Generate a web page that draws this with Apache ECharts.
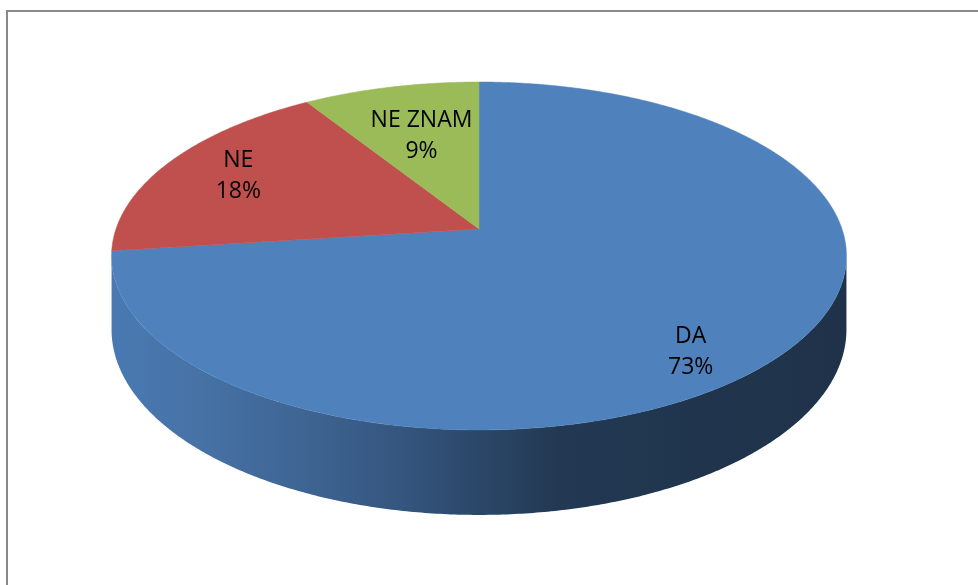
<!DOCTYPE html>
<html><head><meta charset="utf-8">
<script src="https://cdn.jsdelivr.net/npm/echarts@6/dist/echarts.min.js"></script>
<style>html,body{margin:0;padding:0;background:#fff}#c{width:978px;height:585px}</style>
</head><body><div id="c"></div>
<script>
// ---- data ----
const categories = ['DA', 'NE', 'NE ZNAM'];
const values = [73, 18, 9];

// ---- style / layout ----
const colors = ['#4F81BD', '#C0504D', '#9BBB59'];
const labelRadius = [0.72, 0.77, 0.62];
const L = { cx: 479, cy: 229, R: 363, B: 169.8, k: 0.155, T: 71.8 };
const wallStops = [[0, 0.94], [0.12, 0.88], [0.26, 0.78], [0.39, 0.67], [0.5, 0.55], [0.61, 0.44], [0.8, 0.41], [1, 0.39]];

function proj(phi, r, down) {
  const a = phi * Math.PI / 180;
  const u = Math.sin(a) * r, v = Math.cos(a) * r;
  const s = 1 / (1 + L.k * v);
  return [L.cx + L.R * u * s, L.cy - L.B * v * s + (down ? L.T * s : 0)];
}
function shade(hex, f) {
  const n = parseInt(hex.slice(1), 16);
  const r = Math.round(((n >> 16) & 255) * f), g = Math.round(((n >> 8) & 255) * f), b = Math.round((n & 255) * f);
  return 'rgb(' + r + ',' + g + ',' + b + ')';
}
const total = values.reduce((a, b) => a + b, 0);
const starts = [];
values.reduce((acc, v, i) => { starts[i] = acc; return acc + v; }, 0);
const silR = Math.acos(-L.k) * 180 / Math.PI; // right silhouette angle
const silL = 360 - silR;
const halfW = L.R * 1.0122;

function renderItem(params, api) {
  const i = params.dataIndex;
  const v = api.value(0);
  const a0 = starts[i] / total * 360, a1 = (starts[i] + v) / total * 360;
  const children = [];
  // side wall (visible front part)
  const lo = Math.max(a0, silR), hi = Math.min(a1, silL);
  if (lo < hi) {
    const pts = [];
    const n = Math.max(2, Math.ceil((hi - lo) / 0.5));
    for (let j = 0; j <= n; j++) pts.push(proj(lo + (hi - lo) * j / n, 1, false));
    for (let j = n; j >= 0; j--) pts.push(proj(lo + (hi - lo) * j / n, 1, true));
    const stops = wallStops.map(s => ({ offset: s[0], color: shade(colors[i], s[1]) }));
    children.push({
      type: 'polygon', shape: { points: pts },
      style: { fill: new echarts.graphic.LinearGradient(L.cx - halfW, 0, L.cx + halfW, 0, stops, true), stroke: null }
    });
  }
  // top face
  const top = [[L.cx, L.cy]];
  const n2 = Math.max(2, Math.ceil((a1 - a0) / 0.5));
  for (let j = 0; j <= n2; j++) top.push(proj(a0 + (a1 - a0) * j / n2, 1, false));
  children.push({ type: 'polygon', shape: { points: top }, style: { fill: colors[i], stroke: colors[i], lineWidth: 0.5 } });
  // label
  const mid = (a0 + a1) / 2;
  const p = proj(mid, labelRadius[i], false);
  const midV = Math.cos(mid * Math.PI / 180);
  let y = p[1];
  if (midV < 0) y += L.T * 0.5;
  children.push({
    type: 'text', z2: 100,
    style: {
      text: categories[i] + '\n' + Math.round(v / total * 100) + '%',
      x: p[0], y: y, align: 'center', verticalAlign: 'middle',
      font: '23px "Open Sans", "Liberation Sans", sans-serif', lineHeight: 31, fill: '#000'
    }
  });
  return { type: 'group', children: children };
}

const chart = echarts.init(document.getElementById('c'), null, { renderer: 'canvas' });
chart.setOption({
  backgroundColor: '#fff',
  animation: false,
  graphic: [{
    type: 'rect', shape: { x: 7, y: 11, width: 1000, height: 600 },
    style: { fill: null, stroke: '#8a8a8a', lineWidth: 2 }, z: 0
  }],
  series: [{
    type: 'custom', coordinateSystem: 'none',
    data: values.map((v, i) => ({ name: categories[i], value: [v] })),
    renderItem: renderItem, z: 2
  }]
});
</script>
</body></html>
